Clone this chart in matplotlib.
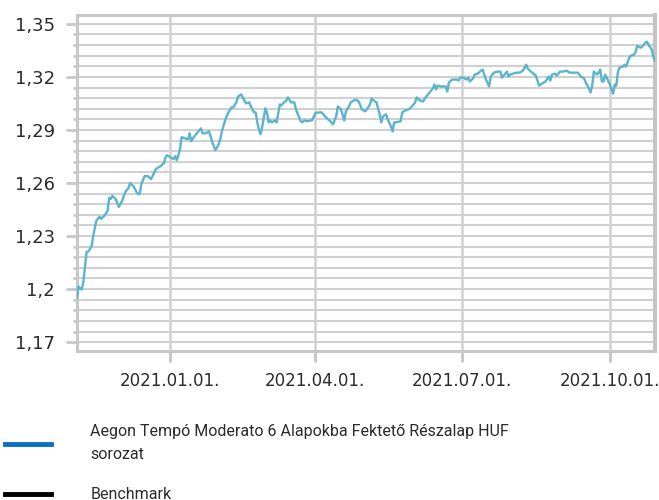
import pandas as pd
import matplotlib
matplotlib.use("Agg")
import matplotlib.pyplot as plt
import matplotlib.dates as mdates
from matplotlib.lines import Line2D
from matplotlib.ticker import FuncFormatter, MultipleLocator

# Net asset value of the fund
dates = [
    "2020-11-04", "2020-11-05", "2020-11-06", "2020-11-07", "2020-11-08", "2020-11-10",
    "2020-11-11", "2020-11-13", "2020-11-14", "2020-11-16", "2020-11-18", "2020-11-19",
    "2020-11-21", "2020-11-23", "2020-11-24", "2020-11-25", "2020-11-26", "2020-11-28",
    "2020-11-30", "2020-12-02", "2020-12-04", "2020-12-06", "2020-12-07", "2020-12-09",
    "2020-12-11", "2020-12-12", "2020-12-13", "2020-12-14", "2020-12-16", "2020-12-18",
    "2020-12-20", "2020-12-23", "2020-12-26", "2020-12-28", "2020-12-29", "2020-12-30",
    "2021-01-01", "2021-01-03", "2021-01-04", "2021-01-05", "2021-01-07", "2021-01-08",
    "2021-01-10", "2021-01-12", "2021-01-13", "2021-01-14", "2021-01-15", "2021-01-17",
    "2021-01-20", "2021-01-21", "2021-01-23", "2021-01-25", "2021-01-26", "2021-01-27",
    "2021-01-29", "2021-01-31", "2021-02-01", "2021-02-02", "2021-02-04", "2021-02-06",
    "2021-02-08", "2021-02-09", "2021-02-11", "2021-02-12", "2021-02-14", "2021-02-15",
    "2021-02-17", "2021-02-19", "2021-02-20", "2021-02-22", "2021-02-23", "2021-02-24",
    "2021-02-25", "2021-02-26", "2021-02-27", "2021-03-01", "2021-03-02", "2021-03-03",
    "2021-03-04", "2021-03-05", "2021-03-07", "2021-03-08", "2021-03-10", "2021-03-11",
    "2021-03-12", "2021-03-14", "2021-03-15", "2021-03-17", "2021-03-19", "2021-03-20",
    "2021-03-23", "2021-03-24", "2021-03-25", "2021-03-27", "2021-03-29", "2021-03-30",
    "2021-04-01", "2021-04-03", "2021-04-05", "2021-04-07", "2021-04-09", "2021-04-11",
    "2021-04-12", "2021-04-14", "2021-04-15", "2021-04-17", "2021-04-19", "2021-04-20",
    "2021-04-22", "2021-04-23", "2021-04-26", "2021-04-28", "2021-04-30", "2021-05-02",
    "2021-05-03", "2021-05-05", "2021-05-06", "2021-05-08", "2021-05-09", "2021-05-11",
    "2021-05-12", "2021-05-13", "2021-05-15", "2021-05-16", "2021-05-18", "2021-05-19",
    "2021-05-20", "2021-05-21", "2021-05-24", "2021-05-25", "2021-05-27", "2021-05-29",
    "2021-05-31", "2021-06-01", "2021-06-02", "2021-06-03", "2021-06-05", "2021-06-07",
    "2021-06-08", "2021-06-10", "2021-06-12", "2021-06-13", "2021-06-14", "2021-06-15",
    "2021-06-16", "2021-06-18", "2021-06-19", "2021-06-21", "2021-06-22", "2021-06-23",
    "2021-06-25", "2021-06-26", "2021-06-28", "2021-06-29", "2021-06-30", "2021-07-02",
    "2021-07-04", "2021-07-05", "2021-07-06", "2021-07-08", "2021-07-09", "2021-07-11",
    "2021-07-13", "2021-07-14", "2021-07-15", "2021-07-16", "2021-07-18", "2021-07-19",
    "2021-07-21", "2021-07-23", "2021-07-25", "2021-07-26", "2021-07-27", "2021-07-28",
    "2021-07-29", "2021-07-30", "2021-07-31", "2021-08-02", "2021-08-04", "2021-08-06",
    "2021-08-08", "2021-08-09", "2021-08-10", "2021-08-11", "2021-08-13", "2021-08-16",
    "2021-08-18", "2021-08-21", "2021-08-22", "2021-08-24", "2021-08-25", "2021-08-26",
    "2021-08-28", "2021-08-29", "2021-08-31", "2021-09-02", "2021-09-04", "2021-09-06",
    "2021-09-08", "2021-09-11", "2021-09-13", "2021-09-15", "2021-09-16", "2021-09-18",
    "2021-09-19", "2021-09-20", "2021-09-21", "2021-09-23", "2021-09-24", "2021-09-25",
    "2021-09-26", "2021-09-27", "2021-09-28", "2021-09-29", "2021-10-01", "2021-10-02",
    "2021-10-03", "2021-10-04", "2021-10-05", "2021-10-06", "2021-10-07", "2021-10-09",
    "2021-10-10", "2021-10-11", "2021-10-12", "2021-10-13", "2021-10-14", "2021-10-16",
    "2021-10-17", "2021-10-18", "2021-10-20", "2021-10-21", "2021-10-23", "2021-10-24",
    "2021-10-25", "2021-10-27", "2021-10-28", "2021-10-29",
]
values = [
    1.1948, 1.2015, 1.2004, 1.1998, 1.2043, 1.2212,
    1.2212, 1.2240, 1.2296, 1.2386, 1.2409, 1.2397,
    1.2414, 1.2442, 1.2516, 1.2510, 1.2527, 1.2510,
    1.2465, 1.2499, 1.2549, 1.2572, 1.2600, 1.2583,
    1.2549, 1.2538, 1.2538, 1.2594, 1.2639, 1.2639,
    1.2622, 1.2679, 1.2696, 1.2712, 1.2746, 1.2757,
    1.2746, 1.2735, 1.2752, 1.2729, 1.2791, 1.2859,
    1.2853, 1.2847, 1.2881, 1.2836, 1.2853, 1.2876,
    1.2909, 1.2881, 1.2881, 1.2892, 1.2864, 1.2831,
    1.2786, 1.2819, 1.2847, 1.2892, 1.2954, 1.2999,
    1.3027, 1.3027, 1.3056, 1.3089, 1.3101, 1.3084,
    1.3050, 1.3056, 1.3033, 1.2999, 1.2999, 1.2943,
    1.2904, 1.2876, 1.2915, 1.3022, 1.2999, 1.2943,
    1.2954, 1.2943, 1.2954, 1.2943, 1.3044, 1.3039,
    1.3050, 1.3067, 1.3084, 1.3056, 1.3056, 1.3016,
    1.2949, 1.2943, 1.2954, 1.2949, 1.2954, 1.2954,
    1.2994, 1.2999, 1.2999, 1.2977, 1.2960, 1.2943,
    1.2932, 1.2977, 1.3033, 1.3016, 1.2954, 1.3005,
    1.3033, 1.3056, 1.3072, 1.3061, 1.3016, 1.3005,
    1.3016, 1.3044, 1.3078, 1.3061, 1.3056, 1.2988,
    1.2943, 1.2977, 1.2988, 1.2960, 1.2921, 1.2892,
    1.2943, 1.2943, 1.2949, 1.2999, 1.3011, 1.3016,
    1.3033, 1.3044, 1.3056, 1.3084, 1.3067, 1.3061,
    1.3078, 1.3101, 1.3123, 1.3134, 1.3157, 1.3129,
    1.3151, 1.3146, 1.3146, 1.3146, 1.3117, 1.3168,
    1.3185, 1.3185, 1.3185, 1.3179, 1.3196, 1.3196,
    1.3185, 1.3196, 1.3174, 1.3191, 1.3213, 1.3219,
    1.3236, 1.3241, 1.3213, 1.3185, 1.3146, 1.3202,
    1.3224, 1.3230, 1.3230, 1.3196, 1.3207, 1.3219,
    1.3230, 1.3202, 1.3213, 1.3219, 1.3224, 1.3224,
    1.3236, 1.3252, 1.3269, 1.3247, 1.3230, 1.3207,
    1.3151, 1.3168, 1.3174, 1.3202, 1.3179, 1.3213,
    1.3219, 1.3207, 1.3230, 1.3230, 1.3236, 1.3224,
    1.3224, 1.3224, 1.3202, 1.3191, 1.3168, 1.3134,
    1.3112, 1.3151, 1.3230, 1.3213, 1.3224, 1.3241,
    1.3174, 1.3174, 1.3213, 1.3196, 1.3157, 1.3129,
    1.3106, 1.3157, 1.3151, 1.3230, 1.3252, 1.3258,
    1.3269, 1.3258, 1.3281, 1.3309, 1.3320, 1.3326,
    1.3342, 1.3376, 1.3365, 1.3371, 1.3393, 1.3399,
    1.3382, 1.3354, 1.3314, 1.3292,
]

series_labels = [
    "Aegon Tempó Moderato 6 Alapokba Fektető Részalap HUF\nsorozat",
    "Benchmark",
]

df = pd.DataFrame({"Date": pd.to_datetime(dates), "Value": values})

grid_color = "#d0d0d0"
text_color = "#2b2b2b"

fig = plt.figure(figsize=(6.59, 5.0), dpi=100)
ax = fig.add_axes([0.1168, 0.298, 0.8771, 0.672])

# the fund line
ax.plot(df["Date"], df["Value"], color="#5ab4cc", linewidth=1.7, zorder=3)

ax.set_xlim(df["Date"].iloc[0], df["Date"].iloc[-1])
ax.set_ylim(1.165, 1.355)

# y axis: major every 0.03, minor gridlines every 0.006
ax.yaxis.set_major_locator(MultipleLocator(0.03))
ax.yaxis.set_minor_locator(MultipleLocator(0.006))


def format_hu(x, pos):
    return f"{x:.2f}".rstrip("0").replace(".", ",")


ax.yaxis.set_major_formatter(FuncFormatter(format_hu))

# x axis: quarter starts
ax.xaxis.set_major_locator(mdates.MonthLocator(bymonth=[1, 4, 7, 10]))
ax.xaxis.set_major_formatter(mdates.DateFormatter("%Y.%m.%d."))

ax.grid(axis="y", which="both", color=grid_color, linewidth=1.5, zorder=1)
ax.grid(axis="x", which="major", color=grid_color, linewidth=1.8, zorder=1)
ax.set_axisbelow(True)

for side in ["left", "bottom", "top"]:
    ax.spines[side].set_color("#c8c8c8")
    ax.spines[side].set_linewidth(2.2)
ax.spines["right"].set_color("#c4c4c4")
ax.spines["right"].set_linewidth(3)

ax.tick_params(axis="y", which="major", length=8, width=2, color="#c8c8c8",
               labelsize=13, labelcolor=text_color, pad=8)
ax.tick_params(axis="y", which="minor", length=3, width=2, color="#c8c8c8")
ax.tick_params(axis="x", which="major", length=8, width=2.2, color="#c8c8c8",
               labelsize=12, labelcolor=text_color, pad=7)
ax.tick_params(axis="x", which="minor", length=0)

# legend below the plot
handles = [
    Line2D([], [], color="#0a70c0", linewidth=3.5),
    Line2D([], [], color="black", linewidth=3.5),
]
leg = fig.legend(
    handles,
    series_labels,
    loc="upper left",
    bbox_to_anchor=(5 / 659, 1 - 424 / 500),
    frameon=False,
    borderpad=0,
    borderaxespad=0,
    handlelength=2.85,
    handletextpad=2.5,
    labelspacing=1.55,
    prop={"family": ["Roboto", "DejaVu Sans"], "size": 11.5},
    labelcolor=text_color,
)
for t in leg.get_texts():
    t.set_linespacing(1.7)

fig.savefig("out.png", dpi=100)
